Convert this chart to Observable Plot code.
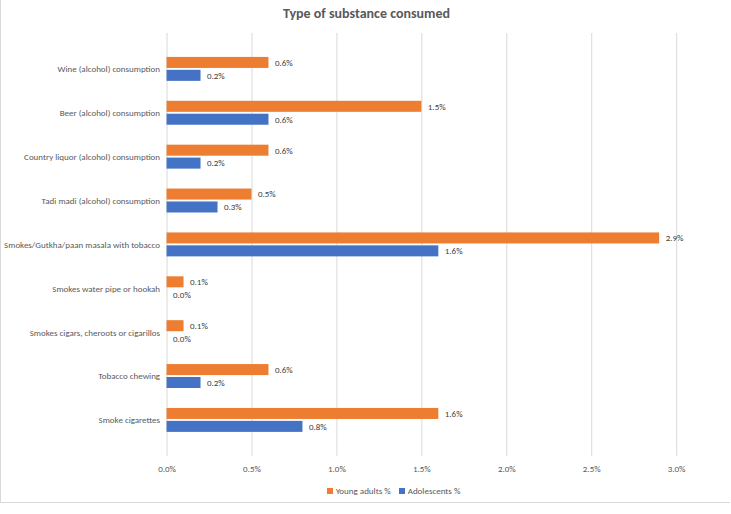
<!DOCTYPE html>
<html>
<head>
<meta charset="utf-8">
<script src="https://cdn.jsdelivr.net/npm/d3@7"></script>
<script src="https://cdn.jsdelivr.net/npm/@observablehq/plot@0.6"></script>
<style>
  body { margin: 0; background: #fff; }
  #wrap { position: relative; width: 729px; height: 502px; border: 1px solid #d9d9d9; border-top: none; border-right: none; background: #fff; font-family: Carlito, Lato, "Liberation Sans", sans-serif; }
  #title { position: absolute; top: 5px; left: 0; width: 731px; text-align: center; font-size: 14px; font-weight: bold; color: #595959; }
  #chart { position: absolute; top: 28px; left: 0; }
  #legend { position: absolute; top: 485px; left: 27px; width: 731px; text-align: center; font-size: 9px; color: #595959; }
  .sw { display: inline-block; width: 6px; height: 6px; margin-right: 3px; vertical-align: 0px; }
  .item { margin: 0 4px; }
</style>
</head>
<body>
<div id="wrap">
  <div id="title">Type of substance consumed</div>
  <div id="chart"></div>
  <div id="legend"></div>
</div>
<script>
const categories = [
  "Wine (alcohol) consumption",
  "Beer (alcohol) consumption",
  "Country liquor (alcohol) consumption",
  "Tadi madi (alcohol) consumption",
  "Smokes/Gutkha/paan masala with tobacco",
  "Smokes water pipe or hookah",
  "Smokes cigars, cheroots or cigarillos",
  "Tobacco chewing",
  "Smoke cigarettes"
];
const youngAdults = [0.6, 1.5, 0.6, 0.5, 2.9, 0.1, 0.1, 0.6, 1.6];
const adolescents = [0.2, 0.6, 0.2, 0.3, 1.6, 0.0, 0.0, 0.2, 0.8];
const seriesNames = ["Young adults %", "Adolescents %"];
const seriesColors = ["#ED7D31", "#4472C4"];
const xTicks = [0, 0.5, 1.0, 1.5, 2.0, 2.5, 3.0];

const young = categories.map((c, i) => ({cat: c, v: youngAdults[i]}));
const adol = categories.map((c, i) => ({cat: c, v: adolescents[i]}));
const fmt = d => d.toFixed(1) + "%";

const H = 452, mT = 5, mB = 23;
const pad = 0.45;
const step = (H - mT - mB) / categories.length;
const half = step * (1 - pad) / 2;

const chart = Plot.plot({
  width: 731,
  height: H,
  marginLeft: 166,
  marginRight: 54,
  marginTop: mT,
  marginBottom: mB,
  style: {fontFamily: "Carlito, Lato, 'Liberation Sans', sans-serif", fontSize: "9px", color: "#595959", background: "transparent"},
  x: {domain: [0, 3.0], ticks: xTicks, tickFormat: fmt, label: null},
  y: {domain: categories, padding: pad, label: null},
  marks: [
    Plot.ruleX(xTicks, {stroke: "#d9d9d9", strokeWidth: 1}),
    Plot.barX(young, {x: "v", y: "cat", fill: seriesColors[0], insetBottom: half}),
    Plot.barX(adol, {x: "v", y: "cat", fill: seriesColors[1], insetTop: half}),
    Plot.text(young, {x: "v", y: "cat", text: d => fmt(d.v), dx: 6, dy: -half / 2, textAnchor: "start", fill: "#404040"}),
    Plot.text(adol, {x: "v", y: "cat", text: d => fmt(d.v), dx: 6, dy: half / 2, textAnchor: "start", fill: "#404040"}),
    Plot.axisY({tickSize: 0, tickPadding: 7, label: null}),
    Plot.axisX(xTicks, {tickSize: 0, tickPadding: 9, tickFormat: fmt, label: null})
  ]
});
document.getElementById("chart").appendChild(chart);

const legend = document.getElementById("legend");
seriesNames.forEach((n, i) => {
  const s = document.createElement("span");
  s.className = "item";
  s.innerHTML = `<span class="sw" style="background:${seriesColors[i]}"></span>${n}`;
  legend.appendChild(s);
});
</script>
</body>
</html>
